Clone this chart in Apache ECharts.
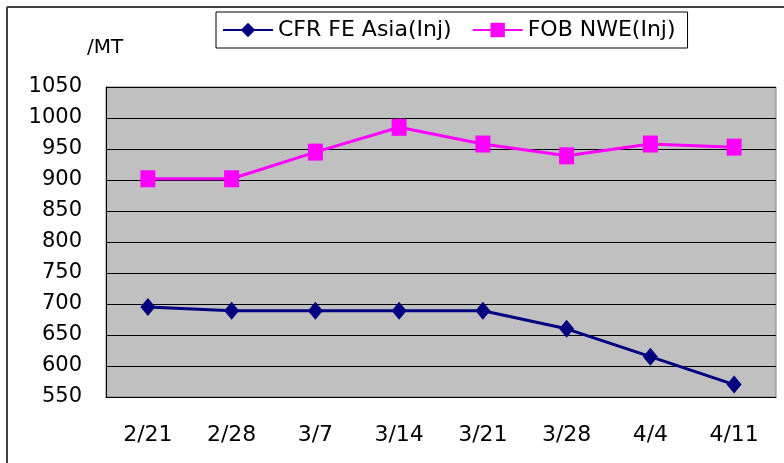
<!DOCTYPE html>
<html>
<head>
<meta charset="utf-8">
<script src="https://cdn.jsdelivr.net/npm/echarts@6/dist/echarts.min.js"></script>
<style>
html,body{margin:0;padding:0;background:#fff;}
#c{width:784px;height:463px;}
</style>
</head>
<body>
<div id="c"></div>
<script>
var categories = ['2/21','2/28','3/7','3/14','3/21','3/28','4/4','4/11'];
var cfrFeAsia = [695, 689, 689, 689, 689, 660, 615, 570];
var fobNwe = [902, 902, 945, 985, 958, 939, 958, 953];
var yTicks = {min: 550, max: 1050, interval: 50};
var unitLabel = '/MT';

var FONT = '"DejaVu Sans", sans-serif';
var chart = echarts.init(document.getElementById('c'), null, {renderer: 'canvas'});
chart.setOption({
  animation: false,
  backgroundColor: '#fff',
  textStyle: {fontFamily: FONT},
  graphic: [
    {type: 'line', shape: {x1: 7, y1: 7, x2: 784, y2: 7}, style: {stroke: '#404040', lineWidth: 2}},
    {type: 'line', shape: {x1: 7, y1: 7, x2: 7, y2: 463}, style: {stroke: '#404040', lineWidth: 2}},
    {type: 'text', left: 87, top: 38, style: {text: unitLabel, font: '20px ' + FONT, fill: '#000'}}
  ],
  legend: {
    left: 216, top: 12,
    padding: [7, 12, 7, 6],
    borderColor: '#000', borderWidth: 1,
    itemGap: 20,
    itemWidth: 50, itemHeight: 18,
    textStyle: {fontSize: 22, color: '#000', fontFamily: FONT},
    data: ['CFR FE Asia(Inj)', 'FOB NWE(Inj)']
  },
  grid: {
    left: 106, right: 8, top: 87, bottom: 66,
    show: true, backgroundColor: '#C0C0C0', borderColor: '#808080', borderWidth: 1
  },
  xAxis: {
    type: 'category',
    data: categories,
    boundaryGap: true,
    axisLine: {lineStyle: {color: '#000', width: 1}},
    axisTick: {inside: true, length: 5, lineStyle: {color: '#000'}},
    axisLabel: {fontSize: 22, color: '#000', margin: 27, fontFamily: FONT}
  },
  yAxis: {
    type: 'value',
    min: yTicks.min, max: yTicks.max, interval: yTicks.interval,
    axisLine: {show: true, lineStyle: {color: '#000', width: 1}},
    axisTick: {show: true, inside: true, length: 5, lineStyle: {color: '#000'}},
    splitLine: {lineStyle: {color: '#000', width: 1}},
    axisLabel: {fontSize: 21, color: '#000', margin: 24, fontFamily: FONT,
      formatter: function (v) { return String(v); }}
  },
  series: [
    {
      name: 'CFR FE Asia(Inj)', type: 'line', data: cfrFeAsia,
      symbol: 'diamond', symbolSize: [15, 18],
      lineStyle: {color: '#000080', width: 3},
      itemStyle: {color: '#000080'}
    },
    {
      name: 'FOB NWE(Inj)', type: 'line', data: fobNwe,
      symbol: 'rect', symbolSize: [15, 17],
      lineStyle: {color: '#FF00FF', width: 3},
      itemStyle: {color: '#FF00FF'}
    }
  ]
});
</script>
</body>
</html>
